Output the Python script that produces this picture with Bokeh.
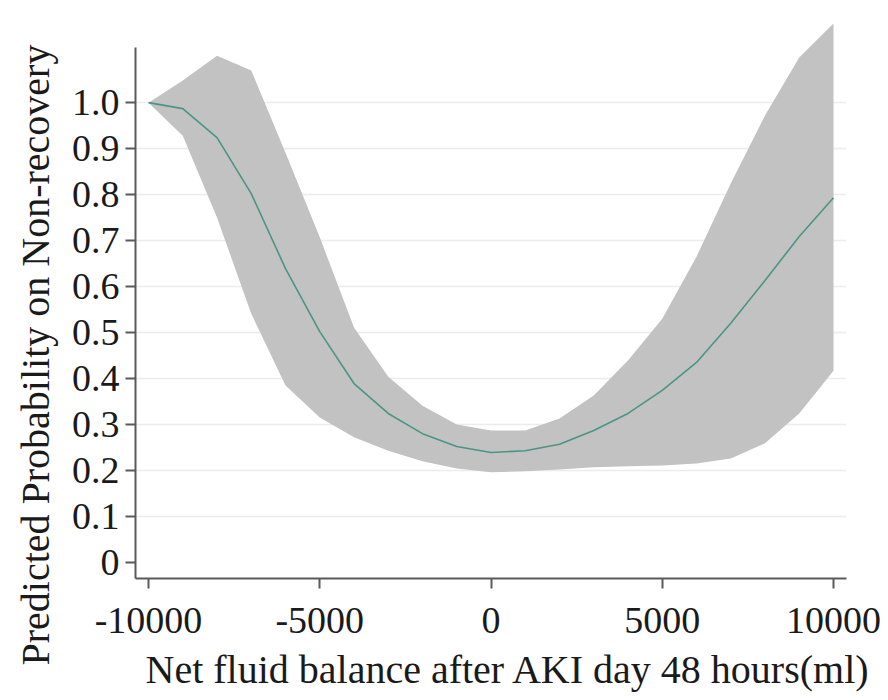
from bokeh.plotting import figure
from bokeh.models import FixedTicker, Title
from bokeh.embed import file_html
from bokeh.resources import INLINE

# Data
fluid_balance = [-10000, -9000, -8000, -7000, -6000, -5000, -4000, -3000, -2000, -1000,
                 0, 1000, 2000, 3000, 4000, 5000, 6000, 7000, 8000, 9000, 10000]
prob_mean = [1.000, 0.987, 0.924, 0.802, 0.639, 0.502, 0.389, 0.324, 0.280, 0.252,
             0.239, 0.243, 0.257, 0.287, 0.324, 0.374, 0.435, 0.520, 0.613, 0.709, 0.793]
prob_upper = [1.000, 1.048, 1.102, 1.070, 0.891, 0.707, 0.511, 0.404, 0.341, 0.300,
              0.287, 0.287, 0.313, 0.363, 0.439, 0.530, 0.665, 0.824, 0.972, 1.098, 1.172]
prob_lower = [1.000, 0.928, 0.750, 0.541, 0.385, 0.315, 0.272, 0.243, 0.220, 0.204,
              0.196, 0.198, 0.202, 0.207, 0.209, 0.211, 0.215, 0.226, 0.259, 0.324, 0.417]

x_ticks = [-10000, -5000, 0, 5000, 10000]
x_tick_labels = ["-10000", "-5000", "0", "5000", "10000"]
y_ticks = [0, 0.1, 0.2, 0.3, 0.4, 0.5, 0.6, 0.7, 0.8, 0.9, 1.0]
y_tick_labels = ["0", "0.1", "0.2", "0.3", "0.4", "0.5", "0.6", "0.7", "0.8", "0.9", "1.0"]

x_label = "Net fluid balance after AKI day 48 hours(ml)"
y_label = "Predicted Probability on Non-recovery"

FONT = "Liberation Serif"

p = figure(width=888, height=700, output_backend="svg", toolbar_location=None,
           x_range=(-10380, 10380), y_range=(-0.035, 1.183),
           min_border_left=135, min_border_right=42, min_border_top=18, min_border_bottom=122)
p.outline_line_color = None
p.background_fill_color = "white"
p.border_fill_color = "white"

p.varea(x=fluid_balance, y1=prob_lower, y2=prob_upper, fill_color="#c2c2c2", fill_alpha=1.0)
p.line(x=fluid_balance, y=prob_mean, line_color="#4a9585", line_width=1.6)

# axes
for ax in (p.xaxis[0], p.yaxis[0]):
    ax.axis_line_color = "#5a5a5a"
    ax.axis_line_width = 2
    ax.major_tick_line_color = "#5a5a5a"
    ax.major_tick_line_width = 2
    ax.major_tick_in = 0
    ax.major_tick_out = 10
    ax.minor_tick_line_color = None
    ax.major_label_text_font = FONT
    ax.major_label_text_font_size = "38px"
    ax.major_label_text_color = "#1a1a1a"

p.xaxis.ticker = FixedTicker(ticks=x_ticks)
p.xaxis.major_label_overrides = {t: s for t, s in zip(x_ticks, x_tick_labels)}
p.xaxis.major_label_standoff = 19
p.yaxis.ticker = FixedTicker(ticks=y_ticks)
p.yaxis.major_label_overrides = {t: s for t, s in zip(y_ticks, y_tick_labels)}
p.yaxis.major_label_standoff = 6
p.yaxis.bounds = (-0.035, 1.12)

p.xgrid.grid_line_color = None
p.ygrid.ticker = FixedTicker(ticks=y_ticks[1:])
p.ygrid.grid_line_color = "#ececec"
p.ygrid.grid_line_width = 1.5

# axis titles
p.add_layout(Title(text=x_label, align="left", offset=10, standoff=18,
                   text_font=FONT, text_font_size="40px", text_font_style="normal",
                   text_color="#1a1a1a"), "below")
p.add_layout(Title(text=y_label, align="left", offset=-87, standoff=21,
                   text_font=FONT, text_font_size="40px", text_font_style="normal",
                   text_color="#1a1a1a"), "left")

open("out.html", "w").write(file_html(p, INLINE))
